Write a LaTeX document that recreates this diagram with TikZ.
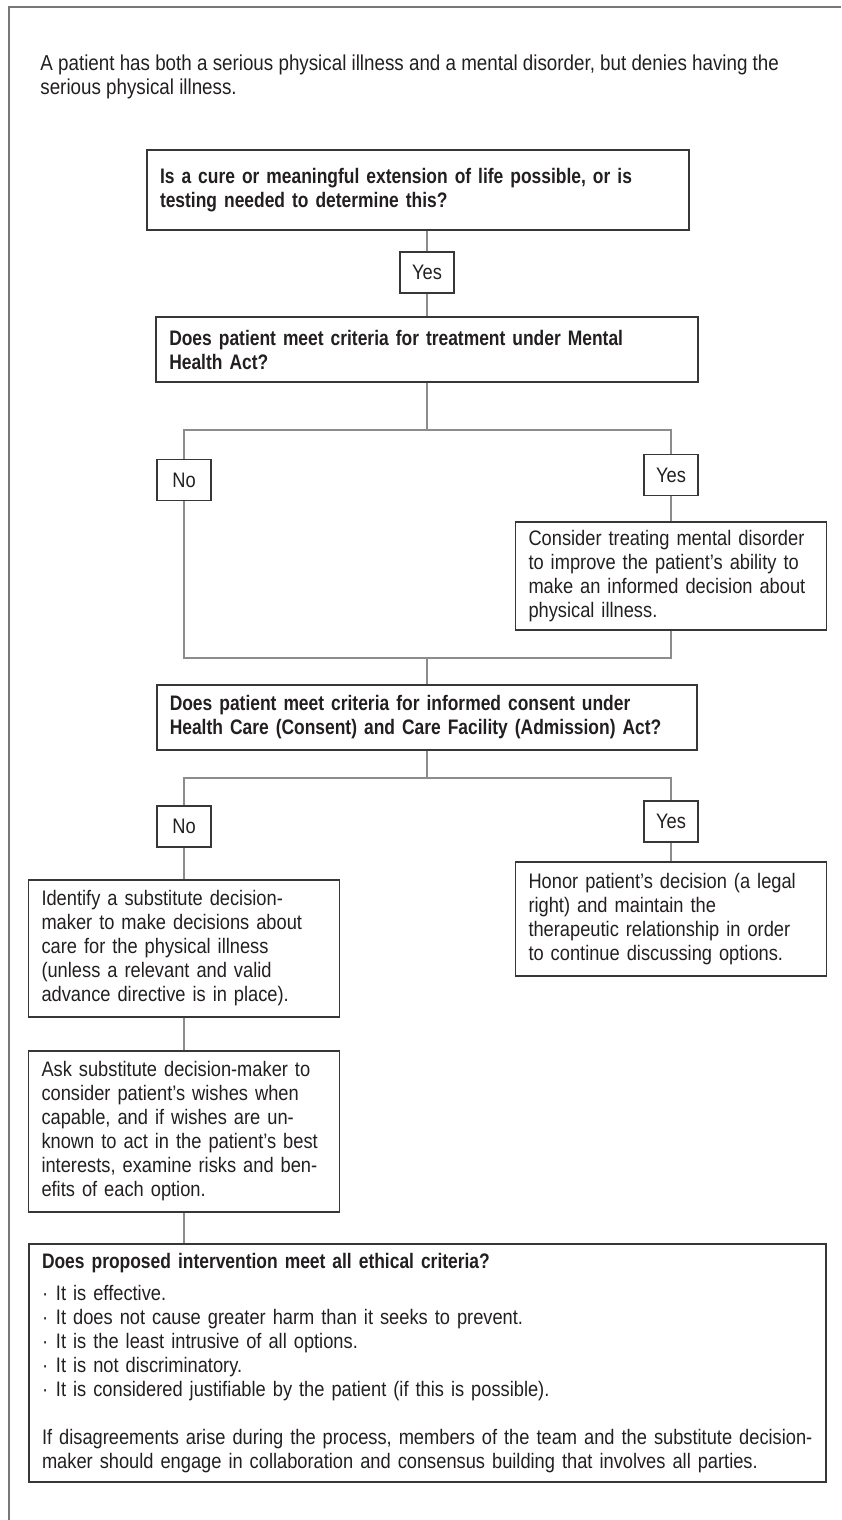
\documentclass[tikz,border=0pt]{standalone}
\usepackage{fontspec}
\setmainfont{Liberation Sans}[FakeStretch=0.87,BoldFeatures={FakeStretch=0.83}]
\usetikzlibrary{positioning}
\definecolor{C1}{RGB}{55,55,55}
\definecolor{C2}{RGB}{140,140,140}
\definecolor{C3}{RGB}{35,31,32}
\definecolor{C4}{RGB}{120,120,120}
\newcommand{\boxfont}{\fontsize{10.5}{12}\selectfont}
\newcommand{\dotitem}{\makebox[7pt][l]{·}}

\begin{document}
\begin{tikzpicture}[x=0.5pt,y=-0.5pt,
      qbox/.style={draw=C1,line width=0.85pt,text=C3,
                   font=\boxfont\bfseries,align=left,
                   inner xsep=6.5pt,inner ysep=0pt},
      sbox/.style={draw=C1,line width=0.85pt,text=C3,
                   font=\boxfont,text width=142.5pt,align=left,
                   inner xsep=6.5pt,inner ysep=0pt},
      ans/.style={draw=C1,line width=0.85pt,text=C3,font=\boxfont,
                  minimum width=27pt,minimum height=20.5pt,
                  inner sep=0pt},
      link/.style={C2,line width=0.7pt}]
    \useasboundingbox (0,0) rectangle (841,1520);
    % page frame, open at right and bottom
    \draw[C4,line width=0.7pt] (9,1520) -- (9,7) -- (841,7);

    \node[anchor=west,align=left,inner sep=0pt,
          font=\fontsize{10.8}{11.75}\selectfont,text=C3]
      (intro) at (40,77)
      {A patient has both a serious physical illness and a mental disorder, but denies having the\\
       serious physical illness.};

    % first question
    \node[qbox,text width=258pt,minimum height=40pt] (q1) at (418,190)
      {Is a cure or meaningful extension of life possible, or is\\
       testing needed to determine this?};
    \node[ans] (yes1) at (427,272.5) {Yes};
    \node[qbox,text width=257.75pt,minimum height=32.5pt] (q2) at (427,349.5)
      {Does patient meet criteria for treatment under Mental\\
       Health Act?};
    \node[ans] (no1) at (184,480) {No};
    \node[ans] (yes2) at (671,475) {Yes};
    \node[sbox,minimum height=54pt] (treat) at (671,576)
      {Consider treating mental disorder\\
       to improve the patient’s ability to\\
       make an informed decision about\\
       physical illness.};

    % consent question
    \node[qbox,text width=257.25pt,minimum height=32.5pt] (q3) at (427,717.5)
      {Does patient meet criteria for informed consent under\\
       Health Care (Consent) and Care Facility (Admission) Act?};
    \node[ans] (no2) at (184,826.5) {No};
    \node[ans] (yes3) at (671,821.5) {Yes};
    \node[sbox,minimum height=57pt] (honor) at (671,919)
      {Honor patient’s decision (a legal\\
       right) and maintain the\\
       therapeutic relationship in order\\
       to continue discussing options.};
    \node[sbox,minimum height=68.5pt] (sdm) at (184,948.5)
      {Identify a substitute decision-\\
       maker to make decisions about\\
       care for the physical illness\\
       (unless a relevant and valid\\
       advance directive is in place).};
    \node[sbox,minimum height=80.5pt] (ask) at (184,1131.5)
      {Ask substitute decision-maker to\\
       consider patient’s wishes when\\
       capable, and if wishes are un-\\
       known to act in the patient’s best\\
       interests, examine risks and ben-\\
       efits of each option.};
    \node[sbox,text width=385.5pt,minimum height=119pt] (ethics) at (427.5,1363)
      {\textbf{Does proposed intervention meet all ethical criteria?}\\[4pt]
       \dotitem It is effective.\\
       \dotitem It does not cause greater harm than it seeks to prevent.\\
       \dotitem It is the least intrusive of all options.\\
       \dotitem It is not discriminatory.\\
       \dotitem It is considered justifiable by the patient (if this is possible).\\[12pt]
       If disagreements arise during the process, members of the team and the substitute decision-\\
       maker should engage in collaboration and consensus building that involves all parties.};

    % connectors
    \coordinate (split1) at (427,430);
    \coordinate (join1) at (427,658);
    \coordinate (split2) at (427,778);
    \draw[link] (q1.south -| yes1) -- (yes1);
    \draw[link] (yes1) -- (yes1 |- q2.north);
    \draw[link] (q2.south -| split1) -- (split1);
    \draw[link] (no1) -- (no1 |- split1) -- (yes2 |- split1) -- (yes2);
    \draw[link] (yes2) -- (treat);
    \draw[link] (no1) -- (no1 |- join1) -- (treat.south |- join1) -- (treat);
    \draw[link] (join1) -- (q3);
    \draw[link] (q3) -- (split2);
    \draw[link] (no2) -- (no2 |- split2) -- (yes3 |- split2) -- (yes3);
    \draw[link] (no2) -- (sdm);
    \draw[link] (yes3) -- (honor);
    \draw[link] (sdm) -- (ask);
    \draw[link] (ask) -- (ask |- ethics.north);
\end{tikzpicture}
\end{document}
